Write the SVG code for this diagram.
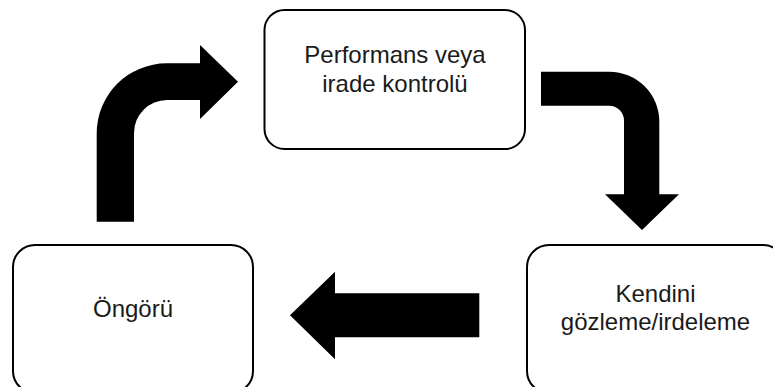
<svg xmlns="http://www.w3.org/2000/svg" width="773" height="387" viewBox="0 0 773 387">
<style>
.box{fill:#fff;stroke:#000;stroke-width:2}
.lbl{font-family:"Liberation Sans",Arial,sans-serif;font-size:24px;fill:#1a1a1a;text-anchor:middle}
.arr{fill:#000;stroke:none}
</style>
<rect width="773" height="387" fill="#fff"/>
<g id="connectors">
<path class="arr" d="M96.7,221.7 V133.3 A70,70 0 0 1 166.7,63.3 H200 V45 L238,81.7 L200,119 V100 H167 A33,33 0 0 0 134,133 V221.7 Z"/>
<path class="arr" d="M541,71.7 H609.3 A50,50 0 0 1 659.3,121.7 V194.3 H679 L642,230 L605,194.3 H624 V120.7 A15,15 0 0 0 609,105.7 H541 Z"/>
<path class="arr" d="M479.3,293.3 H335 V271.7 L290,315.3 L335,359.3 V337.3 H479.3 Z"/>
</g>
<g id="node-performans">
<rect class="box" x="264.5" y="10" width="260.5" height="139" rx="20"/>
<text class="lbl" x="395" y="63.3">Performans veya</text>
<text class="lbl" x="395" y="91.7">irade kontrolü</text>
</g>
<g id="node-ongoru">
<rect class="box" x="13" y="245" width="240" height="148" rx="22"/>
<text class="lbl" x="133" y="317.3">Öngörü</text>
</g>
<g id="node-kendini">
<rect class="box" x="527" y="245" width="258" height="148" rx="22"/>
<text class="lbl" x="655.5" y="301.7">Kendini</text>
<text class="lbl" x="655.5" y="330">gözleme/irdeleme</text>
</g>
</svg>
